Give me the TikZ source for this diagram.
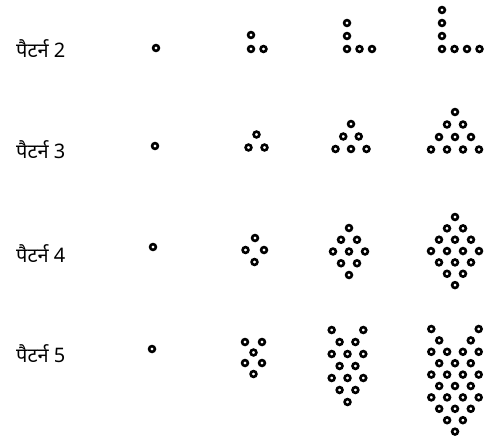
\documentclass[tikz,border=0pt]{standalone}
\usepackage{fontspec}
\newfontfamily\deva[Script=Devanagari]{Noto Sans}
\tikzset{
  dot/.style={circle, draw=black, line width=2.6pt, fill=white, inner sep=0pt, minimum size=5.8pt},
  lbl/.style={anchor=base west, inner sep=0pt, font=\deva\fontsize{20}{23}\selectfont}
}
\begin{document}
\begin{tikzpicture}[x=1pt,y=-1pt]
\useasboundingbox[fill=white] (0,0) rectangle (487,444);
% labels
\node[lbl] (l2) at (16,58) {पैटर्न 2};
\node[lbl] (l3) at (16,158) {पैटर्न 3};
\node[lbl] (l4) at (16,262) {पैटर्न 4};
\node[lbl] (l5) at (16,362) {पैटर्न 5};
% pattern 2
\node[dot] (a1) at (156,48) {};
\foreach \x/\y [count=\i] in {251/35,251/49,263.5/49}
  \node[dot] (a2d\i) at (\x,\y) {};
\foreach \x/\y [count=\i] in {347/23,347/36,347/49,359.5/49,372/49}
  \node[dot] (a3d\i) at (\x,\y) {};
\foreach \x/\y [count=\i] in {442/10,442/23,442/36,442/49,454.5/49,467/49,479.5/49}
  \node[dot] (a4d\i) at (\x,\y) {};
% pattern 3
\node[dot] (b1) at (155,146) {};
\foreach \x/\y [count=\i] in {256.5/134.5,248.5/147.5,264.5/147.5}
  \node[dot] (b2d\i) at (\x,\y) {};
\foreach \x/\y [count=\i] in {351/124,343.25/136.5,358.75/136.5,335.5/149,351/149,366.5/149}
  \node[dot] (b3d\i) at (\x,\y) {};
\foreach \x/\y [count=\i] in {455/112,447/124.5,463/124.5,439/137,455/137,471/137,431/149.5,447/149.5,463/149.5,479/149.5}
  \node[dot] (b4d\i) at (\x,\y) {};
% pattern 4
\node[dot] (c1) at (153,247) {};
\foreach \x/\y [count=\i] in {255/238,245.5/250,264/250,254.5/262}
  \node[dot] (c2d\i) at (\x,\y) {};
\foreach \u/\v [count=\i] in {0/0,-1/1,1/1,-2/2,0/2,2/2,-1/3,1/3,0/4}
  \node[dot] (c3d\i) at (349+8*\u,228+11.75*\v) {};
\foreach \u/\v [count=\i] in {0/0,-1/1,1/1,-2/2,0/2,2/2,-3/3,-1/3,1/3,3/3,-2/4,0/4,2/4,-1/5,1/5,0/6}
  \node[dot] (c4d\i) at (455+8*\u,217+11.35*\v) {};
% pattern 5
\node[dot] (e1) at (152,349) {};
\foreach \x/\y [count=\i] in {245/342,262/342,253.5/352.5,245/363,262/363,253.5/374}
  \node[dot] (e2d\i) at (\x,\y) {};
\foreach \u/\v [count=\i] in {-2/0,2/0,-1/1,1/1,-2/2,0/2,2/2,-1/3,1/3,-2/4,0/4,2/4,-1/5,1/5,0/6}
  \node[dot] (e3d\i) at (347.5+7.9*\u,330+12*\v) {};
\foreach \u/\v [count=\i] in {-3/0,3/0,-2/1,2/1,-3/2,-1/2,1/2,3/2,-2/3,0/3,2/3,-3/4,-1/4,1/4,3/4,-2/5,0/5,2/5,-3/6,-1/6,1/6,3/6,-2/7,0/7,2/7,-1/8,1/8,0/9}
  \node[dot] (e4d\i) at (455+7.9*\u,329+11.4*\v) {};
\end{tikzpicture}
\end{document}
